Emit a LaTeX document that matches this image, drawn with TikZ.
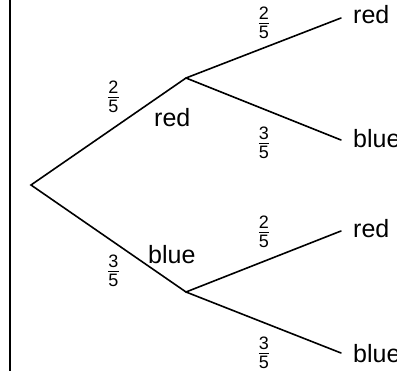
\documentclass[tikz,border=0pt]{standalone}
\usepackage{fontspec}
\setmainfont{Liberation Sans}
\newcommand\myfr[2]{\vbox{\offinterlineskip\halign{\hfil##\hfil\cr\vphantom{0}#1\cr\noalign{\kern2.5pt\hrule height 0.9pt\kern2.5pt}\vphantom{0}#2\cr}}}
\tikzset{
  branch/.style={line width=1.6pt, line cap=round},
  word/.style={inner sep=0pt, anchor=base west, font=\fontsize{25}{30}\selectfont},
  prob/.style={inner sep=0pt, anchor=center, font=\fontsize{18}{18}\selectfont},
}
\begin{document}
\begin{tikzpicture}[x=1pt,y=-1pt]
\useasboundingbox (0,0) rectangle (397,371);
\fill[white] (0,0) rectangle (397,371);
\draw[line width=2.4pt] (10,0) coordinate (topl) -- (10,371) coordinate (botl);
% tree points
\coordinate (R) at (31,185);
\coordinate (U) at (186,78);
\coordinate (L) at (186,292);
\coordinate (UU) at (341,18);
\coordinate (UL) at (341,140);
\coordinate (LU) at (341,231);
\coordinate (LL) at (341,353);
\draw[branch] (UU) -- (U) -- (R) -- (L) -- (LU);
\draw[branch] (U) -- (UL);
\draw[branch] (L) -- (LL);
% outcome words
\node[word] (wUU) at (353,24) {red};
\node[word] (wUL) at (353,148) {blue};
\node[word] (wLU) at (353,238) {red};
\node[word] (wLL) at (353,363) {blue};
\node[word] (wU) at (154,127) {red};
\node[word] (wL) at (148,264) {blue};
% probabilities
\node[prob] (pU) at (113.5,97) {\myfr{2}{5}};
\node[prob] (pL) at (113.5,271) {\myfr{3}{5}};
\node[prob] (pUU) at (264,23) {\myfr{2}{5}};
\node[prob] (pUL) at (264,143) {\myfr{3}{5}};
\node[prob] (pLU) at (264,232) {\myfr{2}{5}};
\node[prob] (pLL) at (264,353) {\myfr{3}{5}};
\end{tikzpicture}
\end{document}
